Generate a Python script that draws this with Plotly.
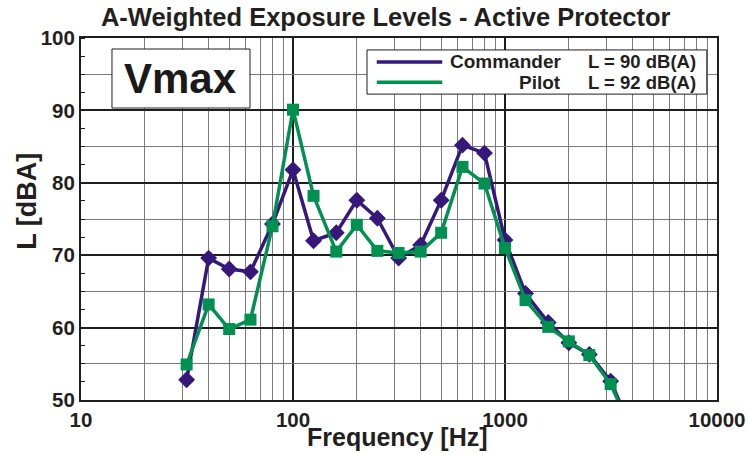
import plotly.graph_objects as go

# One-third octave band centre frequencies [Hz]
freq = [31.5, 40, 50, 63, 80, 100, 125, 160, 200, 250, 315, 400, 500,
        630, 800, 1000, 1250, 1600, 2000, 2500, 3150, 4000]

# A-weighted exposure levels [dB(A)]
commander = [52.8, 69.6, 68.1, 67.7, 74.3, 81.8, 72.0, 73.1, 77.6, 75.1, 69.6,
             71.4, 77.6, 85.2, 84.1, 72.1, 64.7, 60.7, 57.9, 56.3, 52.6, 45.6]
pilot = [54.9, 63.2, 59.8, 61.1, 74.0, 90.1, 78.2, 70.5, 74.2, 70.6, 70.3,
         70.5, 73.1, 82.2, 79.9, 71.0, 63.8, 60.1, 58.1, 56.2, 52.2, 45.4]

names = ["Commander", "Pilot"]
totals = ["L = 90 dB(A)", "L = 92 dB(A)"]
colors = ["#35187a", "#00904f"]

x_ticks = [10, 100, 1000, 10000]
x_ticklabels = ["10", "100", "1000", "10000"]
y_ticks = [50, 60, 70, 80, 90, 100]

FONT = "Liberation Sans, Arial, sans-serif"
INK = "#231f20"

fig = go.Figure()

fig.add_trace(go.Scatter(
    x=freq, y=commander, name=names[0], mode="lines+markers",
    line=dict(color=colors[0], width=3.5),
    marker=dict(symbol="diamond", size=13, color=colors[0]),
))
fig.add_trace(go.Scatter(
    x=freq, y=pilot, name=names[1], mode="lines+markers",
    line=dict(color=colors[1], width=3.5),
    marker=dict(symbol="square", size=12, color=colors[1]),
))

# Light gridlines at the half-decade levels (55, 65, ...) on an overlay axis
fig.add_trace(go.Scatter(x=[None], y=[None], yaxis="y2", showlegend=False,
                         hoverinfo="skip"))

fig.update_layout(
    width=749, height=454,
    margin=dict(l=81, r=32, t=38, b=54),
    paper_bgcolor="white", plot_bgcolor="white",
    showlegend=False,
    font=dict(family=FONT, color=INK),
    title=dict(
        text="<b>A-Weighted Exposure Levels - Active Protector</b>",
        x=0.515, xanchor="center", y=0.962, yanchor="middle",
        font=dict(size=25.5, color=INK, family=FONT),
    ),
    xaxis=dict(
        type="log", range=[1, 4], automargin=False,
        tickvals=x_ticks, ticktext=["<b>%s</b>" % t for t in x_ticklabels],
        tickfont=dict(size=20.5, color=INK),
        showgrid=True, gridcolor="#1e1e1e", gridwidth=1.5,
        minor=dict(dtick="D1", showgrid=True, gridcolor="#7a7a7a",
                   gridwidth=1.4, ticks=""),
        showline=True, linecolor="#1e1e1e", linewidth=2, mirror=True,
        ticks="", zeroline=False,
    ),
    yaxis=dict(
        range=[50, 100], tickvals=y_ticks, automargin=False,
        ticktext=["<b>%d</b>" % v for v in y_ticks],
        tickfont=dict(size=20.5, color=INK),
        showgrid=True, gridcolor="#1e1e1e", gridwidth=2,
        minor=dict(dtick=2.5, tick0=50, ticks="inside", ticklen=4,
                   tickwidth=1.2, tickcolor="#1e1e1e", showgrid=False),
        showline=True, linecolor="#1e1e1e", linewidth=2, mirror=True,
        ticks="", zeroline=False,
    ),
    yaxis2=dict(
        overlaying="y", range=[50, 100], tickvals=[55, 65, 75, 85, 95],
        showticklabels=False, showgrid=True, gridcolor="#7a7a7a",
        gridwidth=1.4, zeroline=False, showline=False, ticks="",
        automargin=False,
    ),
)

# Axis titles
fig.add_annotation(xref="paper", yref="paper", x=0.498, y=-0.102,
                   text="<b>Frequency [Hz]</b>", showarrow=False,
                   font=dict(size=25, color=INK),
                   xanchor="center", yanchor="middle")
fig.add_annotation(xref="paper", yref="paper", x=-0.085, y=0.55,
                   text="<b>L [dBA]</b>", showarrow=False, textangle=-90,
                   font=dict(size=27, color=INK),
                   xanchor="center", yanchor="middle")

# "Vmax" label box
fig.add_shape(type="rect", xref="paper", yref="paper",
              x0=0.0487, x1=0.2657, y0=0.8066, y1=0.9696,
              line=dict(color="#1e1e1e", width=1), fillcolor="white", layer="above")
fig.add_annotation(xref="paper", yref="paper", x=0.1572, y=0.888,
                   text="<b>Vmax</b>", showarrow=False,
                   font=dict(size=42, color="#1a1a1a"),
                   xanchor="center", yanchor="middle")

# Legend box with the overall levels
fig.add_shape(type="rect", xref="paper", yref="paper",
              x0=0.4497, x1=0.984, y0=0.845, y1=0.967,
              line=dict(color="#1e1e1e", width=1), fillcolor="white", layer="above")
for i, yy in enumerate([0.934, 0.878]):
    fig.add_shape(type="line", xref="paper", yref="paper",
                  x0=0.465, x1=0.568, y0=yy, y1=yy,
                  line=dict(color=colors[i], width=3.5), layer="above")
    fig.add_annotation(xref="paper", yref="paper", x=0.758, y=yy,
                       text="<b>%s</b>" % names[i], showarrow=False,
                       font=dict(size=19, color=INK),
                       xanchor="right", yanchor="middle")
    fig.add_annotation(xref="paper", yref="paper", x=0.970, y=yy,
                       text="<b>%s</b>" % totals[i], showarrow=False,
                       font=dict(size=18.5, color=INK),
                       xanchor="right", yanchor="middle")

fig.write_html("out.html")
